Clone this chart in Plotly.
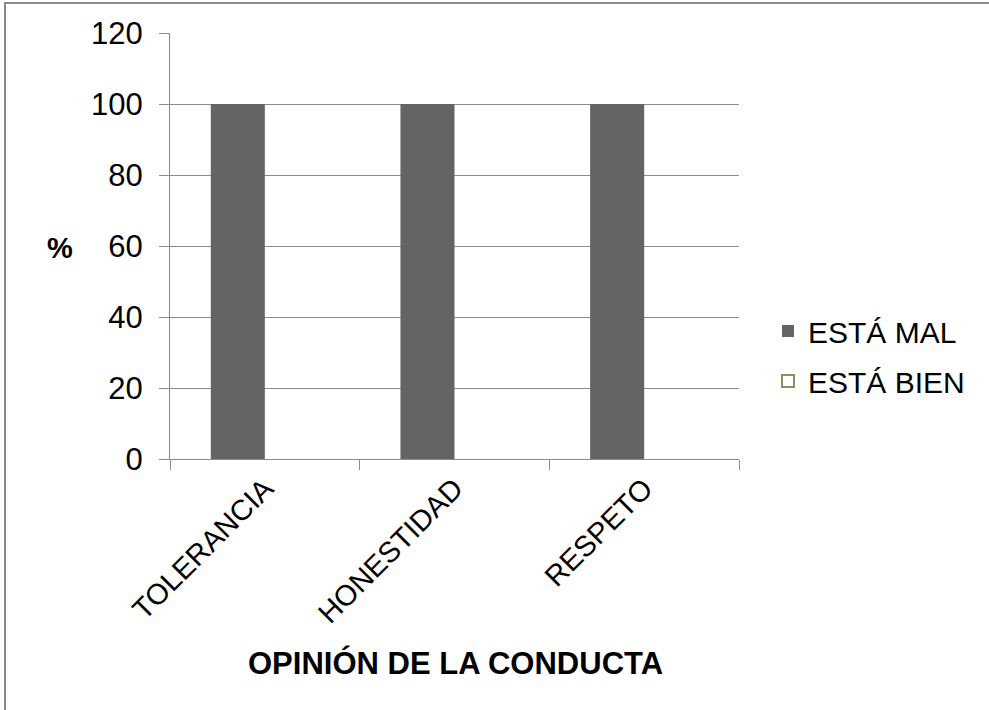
import plotly.graph_objects as go

categories = ["TOLERANCIA", "HONESTIDAD", "RESPETO"]
esta_mal = [100, 100, 100]
esta_bien = [0, 0, 0]
y_ticks = [0, 20, 40, 60, 80, 100, 120]

FONT = "Liberation Sans, Arial, sans-serif"
GRID = "#8c8c8c"

L, R, T, B = 170, 739, 33, 459
W, H = 989, 710
pw, ph = R - L, B - T


def px(x):
    return (x - L) / pw


def py(y):
    return (B - y) / ph


fig = go.Figure()
fig.add_trace(go.Bar(x=categories, y=esta_mal, name="ESTÁ MAL", legendgroup="a",
                     marker=dict(color="#646464", line=dict(width=0))))
fig.add_trace(go.Bar(x=categories, y=esta_bien, name="ESTÁ BIEN", legendgroup="b",
                     marker=dict(color="#ffffff", line=dict(color="#948c5c", width=2)),
                     selectedpoints=[], unselected=dict(marker=dict(opacity=0))))

fig.update_layout(
    width=W, height=H,
    margin=dict(l=L, r=W - R, t=T, b=H - B, pad=0),
    paper_bgcolor="white", plot_bgcolor="white",
    barmode="group", bargap=0.43, bargroupgap=0,
    font=dict(family=FONT, color="#000000", size=30),
    showlegend=True,
    legend=dict(x=px(768), y=py(305), xanchor="left", yanchor="top",
                font=dict(size=30, family=FONT), traceorder="grouped",
                tracegroupgap=8, itemwidth=30, bgcolor="rgba(0,0,0,0)"),
    xaxis=dict(type="category", tickson="boundaries", ticks="outside",
               ticklen=10, tickcolor=GRID, showline=True, linecolor=GRID,
               linewidth=1, showgrid=False, tickangle=-45,
               tickfont=dict(size=29, family=FONT), fixedrange=True),
    yaxis=dict(range=[0, 120], tickvals=y_ticks, ticks="outside", ticklen=10,
               tickcolor=GRID, showline=True, linecolor=GRID, linewidth=1,
               showgrid=True, gridcolor=GRID, gridwidth=1, zeroline=False,
               tickfont=dict(size=31, family=FONT), ticklabelstandoff=10,
               fixedrange=True),
    shapes=[
        dict(type="line", xref="paper", yref="paper", x0=px(4), x1=px(989), y0=py(3), y1=py(3),
             line=dict(color="#8a8a8a", width=2)),
        dict(type="line", xref="paper", yref="paper", x0=px(5), x1=px(5), y0=py(2), y1=py(710),
             line=dict(color="#8a8a8a", width=2)),
    ],
    annotations=[
        dict(text="<b>%</b>", xref="paper", yref="paper", x=px(60), y=py(248),
             showarrow=False, font=dict(size=29, family=FONT), xanchor="center", yanchor="middle"),
        dict(text="<b>OPINIÓN DE LA CONDUCTA</b>", xref="paper", yref="paper", x=px(455), y=py(663),
             showarrow=False, font=dict(size=31, family=FONT), xanchor="center", yanchor="middle"),
    ],
)

fig.write_html("out.html", config={"displayModeBar": False},
               post_script="document.body.style.margin='0px';")
